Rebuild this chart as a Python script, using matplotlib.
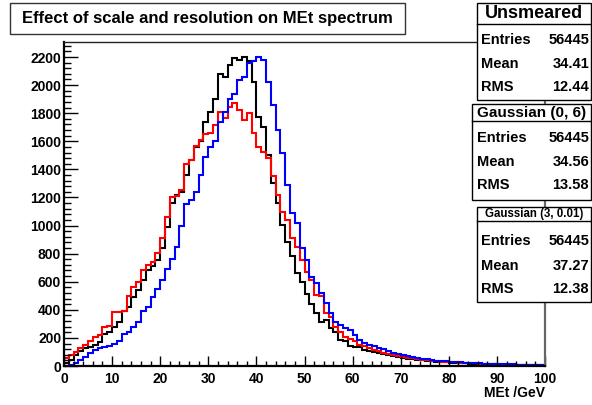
import numpy as np
import matplotlib
matplotlib.use("Agg")
import matplotlib.pyplot as plt
from matplotlib.patches import Rectangle
from matplotlib.lines import Line2D

plt.rcParams['font.family'] = ['Liberation Sans', 'DejaVu Sans']

# histogram: 100 bins from 0 to 100 GeV
edges = np.arange(0, 101, 1)

unsmeared = [20, 45, 75, 110, 125, 135, 150, 170, 230, 245,
             275, 315, 395, 420, 490, 540, 610, 680, 710, 755,
             840, 990, 1160, 1215, 1240, 1360, 1470, 1560, 1600, 1740,
             1810, 1900, 2080, 2060, 2140, 2190, 2180, 2200, 2175, 2025,
             1775, 1705, 1500, 1300, 1160, 1005, 885, 780, 660, 600,
             515, 445, 375, 315, 325, 270, 245, 185, 175, 140,
             137, 135, 115, 108, 100, 92, 85, 76, 68, 62,
             57, 52, 48, 44, 41, 38, 34, 31, 28, 25,
             23, 21, 19, 18, 16, 15, 14, 13, 12, 11,
             10, 9, 9, 8, 7, 7, 6, 6, 5, 5]

gaus_0_6 = [55, 78, 100, 125, 150, 175, 205, 220, 280, 285,
            385, 388, 395, 500, 560, 600, 680, 720, 740, 805,
            910, 1060, 1205, 1210, 1255, 1440, 1465, 1570, 1610, 1655,
            1660, 1715, 1810, 1765, 1845, 1870, 1825, 1750, 1800, 1660,
            1560, 1525, 1480, 1350, 1220, 1100, 1040, 910, 850, 755,
            670, 610, 505, 495, 375, 350, 280, 245, 210, 195,
            175, 150, 140, 125, 115, 105, 96, 87, 79, 71,
            64, 59, 54, 49, 45, 42, 38, 35, 32, 29,
            27, 25, 23, 21, 19, 18, 16, 15, 14, 13,
            12, 11, 10, 10, 9, 8, 8, 7, 7, 6]

gaus_3_001 = [3, 8, 20, 40, 65, 90, 112, 125, 135, 145,
              160, 180, 225, 245, 275, 315, 390, 420, 490, 545,
              610, 690, 760, 845, 1000, 1150, 1180, 1240, 1360, 1490,
              1560, 1600, 1740, 1810, 1900, 1940, 2035, 2060, 2155, 2170,
              2197, 2178, 2024, 1858, 1680, 1514, 1288, 1087, 1015, 838,
              754, 636, 588, 517, 446, 375, 316, 292, 268, 256,
              221, 185, 161, 150, 140, 130, 118, 106, 96, 86,
              76, 68, 62, 56, 51, 47, 43, 39, 36, 33,
              30, 28, 26, 24, 22, 20, 19, 17, 16, 15,
              13, 12, 11, 11, 10, 9, 9, 8, 8, 7]

box_titles = ["Unsmeared", "Gaussian (0, 6)", "Gaussian (3, 0.01)"]
entries = ["56445", "56445", "56445"]
means = ["34.41", "34.56", "37.27"]
rms = ["12.44", "13.58", "12.38"]

W, H = 592, 405
fig = plt.figure(figsize=(W / 100, H / 100), dpi=100)
fig.patch.set_facecolor('white')


def fx(x):
    return x / W


def fy(y):
    return 1 - y / H


ax = fig.add_axes([fx(64), fy(366), (545 - 64) / W, (366 - 42) / H])

ax.stairs(unsmeared, edges, color='black', lw=1.5, baseline=0)
ax.stairs(gaus_0_6, edges, color='#ff0000', lw=1.5, baseline=0)
ax.stairs(gaus_3_001, edges, color='#0000ff', lw=1.5, baseline=0)

ax.set_xlim(0, 100)
ax.set_ylim(0, 2307)
ax.set_xticks(np.arange(0, 101, 10))
ax.set_xticks(np.arange(0, 101, 2), minor=True)
ax.set_yticks(np.arange(0, 2201, 200))
ax.set_yticks(np.arange(0, 2301, 40), minor=True)
ax.tick_params(axis='x', which='major', direction='in', length=7, width=1, pad=4.5, labelsize=10)
ax.tick_params(axis='x', which='minor', direction='in', length=3.5, width=1)
ax.tick_params(axis='y', which='major', direction='in', length=10, width=1, pad=2, labelsize=10)
ax.tick_params(axis='y', which='minor', direction='in', length=5, width=1)
for lab in ax.get_xticklabels() + ax.get_yticklabels():
    lab.set_fontweight('bold')

ax.spines['left'].set_linewidth(1.6)
ax.spines['bottom'].set_linewidth(1.6)
ax.spines['top'].set_linewidth(1)
ax.spines['top'].set_color('#222222')
ax.spines['right'].set_linewidth(1.6)
ax.spines['right'].set_color('#666666')

fig.text(fx(545), fy(393), "MEt /GeV", ha='right', va='center', fontsize=10, fontweight='bold')

# title box
fig.add_artist(Rectangle((fx(10), fy(34)), (405 - 10) / W, (34 - 3) / H, transform=fig.transFigure,
                         facecolor='white', edgecolor='#333333', lw=1, zorder=5))
fig.text(fx(207.5), fy(18.5), "Effect of scale and resolution on MEt spectrum", ha='center', va='center',
         fontsize=12, fontweight='bold', zorder=6)

# stats boxes
boxes = [(476.5, 3, 24, 14, 13, [40, 64, 87], 100, 481.5),
         (471.5, 104, 121, 113, 11, [138, 162, 185], 200, 476.5),
         (477, 207, 221, 213.5, 8.3, [241, 266, 289], 302, 481.5)]
for i, (left, top, line_y, title_y, tsize, rows, bottom, text_x) in enumerate(boxes):
    right = 591
    fig.add_artist(Rectangle((fx(left), fy(bottom)), (right - left) / W, (bottom - top) / H,
                             transform=fig.transFigure, facecolor='white', edgecolor='black', lw=1, zorder=5))
    fig.add_artist(Line2D([fx(left), fx(right)], [fy(line_y), fy(line_y)], transform=fig.transFigure,
                          color='black', lw=1, zorder=6))
    fig.text(fx((left + right) / 2), fy(title_y), box_titles[i], ha='center', va='center',
             fontsize=tsize, fontweight='bold', zorder=7)
    for name, val, y in zip(["Entries", "Mean", "RMS"], [entries[i], means[i], rms[i]], rows):
        fig.text(fx(text_x), fy(y), name, ha='left', va='center', fontsize=10.5, fontweight='bold', zorder=7)
        fig.text(fx(589), fy(y), val, ha='right', va='center', fontsize=10.5, fontweight='bold', zorder=7)

fig.savefig("out.png", dpi=100)
